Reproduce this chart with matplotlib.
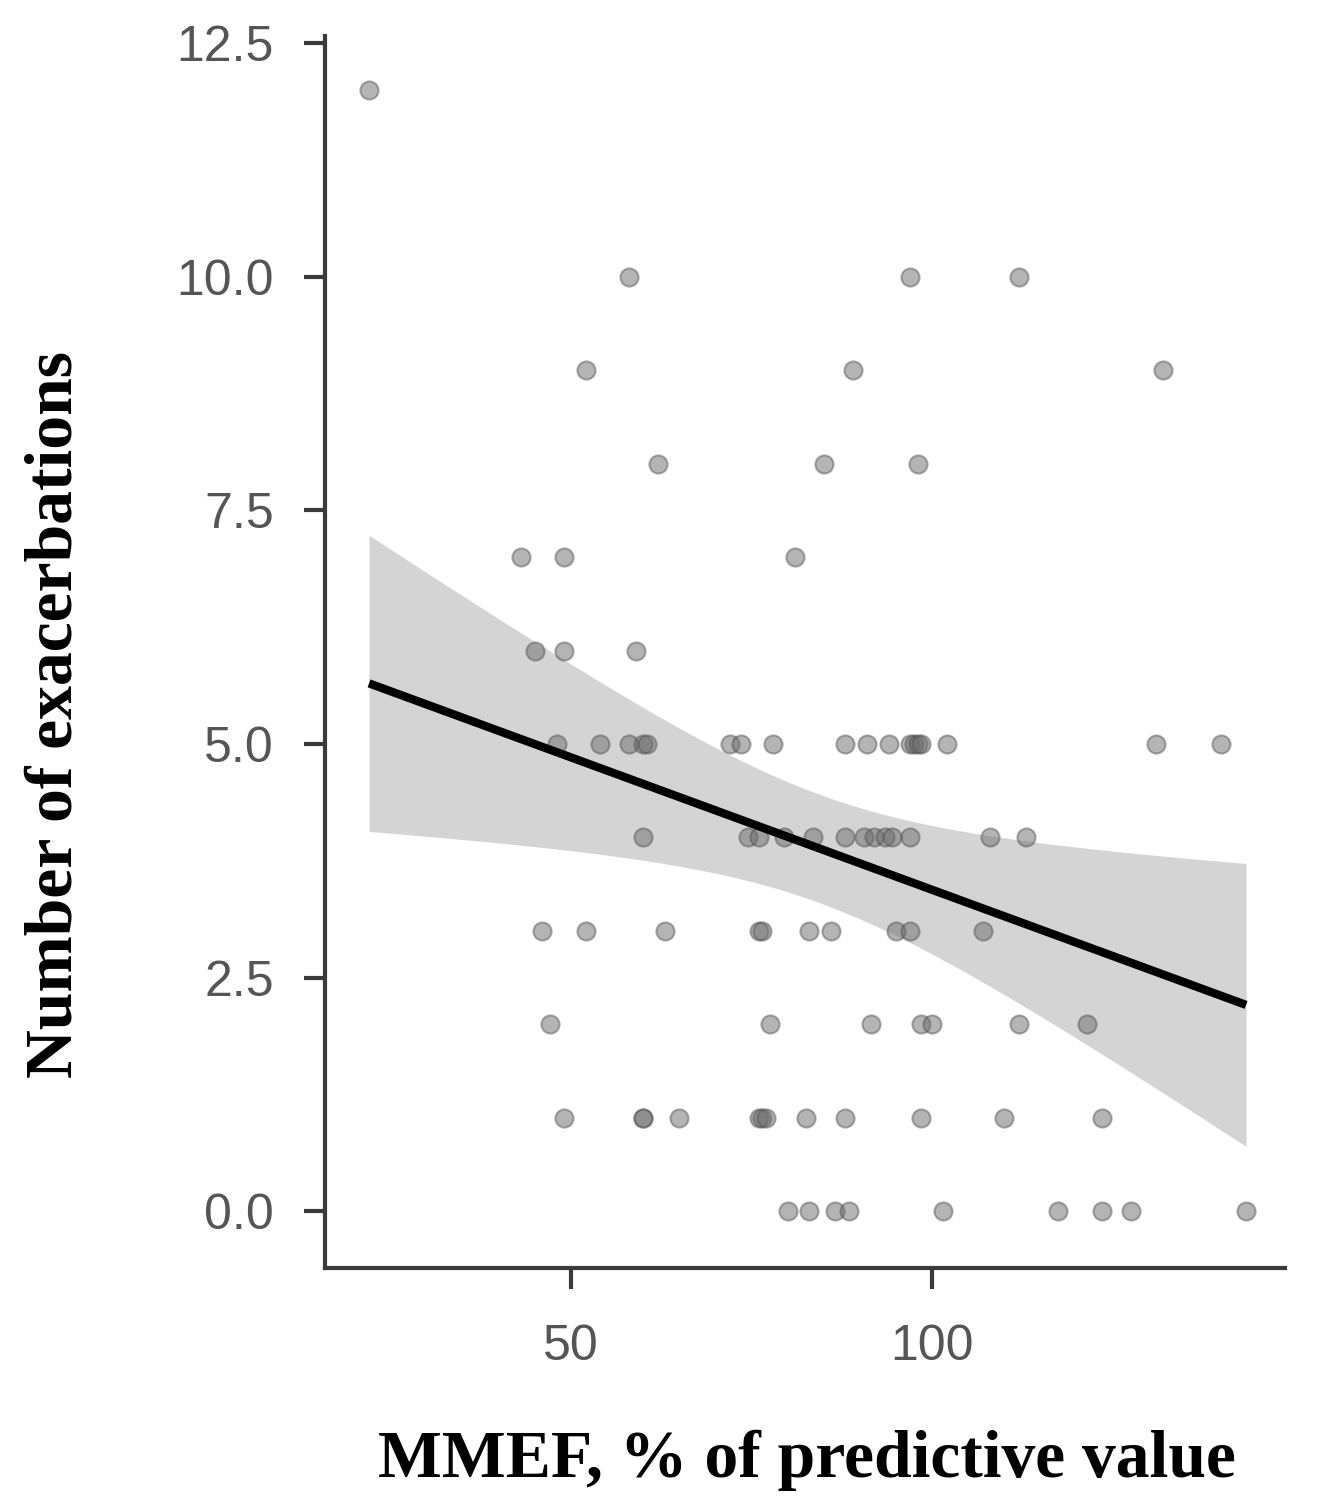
import numpy as np
import matplotlib.pyplot as plt

# MMEF (% predicted), grouped by number of exacerbations
mmef_0 = [80, 83, 86.5, 88.5, 101.5, 117.5, 123.5, 127.5, 143.5]
mmef_1 = [49, 60, 60, 65, 76, 76.5, 77, 82.5, 88, 98.5, 110, 123.5]
mmef_2 = [47, 77.5, 91.5, 98.5, 100, 112, 121.5]
mmef_3 = [46, 52, 63, 76, 76.5, 83, 86, 95, 97, 107]
mmef_4 = [60, 74.5, 76, 79.5, 83.5, 88, 90.5, 92, 93.5, 94.5, 97, 108, 113]
mmef_5 = [48, 54, 58, 60, 60.5, 72, 73.5, 78, 88, 91, 94, 97, 97.5, 98, 98.5, 102, 131, 140]
mmef_6 = [45, 49, 59]
mmef_7 = [43, 49, 81]
mmef_8 = [62, 85, 98]
mmef_9 = [52, 89, 132]
mmef_10 = [58, 97, 112]
mmef_12 = [22]

groups = {0: mmef_0, 1: mmef_1, 2: mmef_2, 3: mmef_3, 4: mmef_4, 5: mmef_5,
          6: mmef_6, 7: mmef_7, 8: mmef_8, 9: mmef_9, 10: mmef_10, 12: mmef_12}

x = []
y = []
for k in groups:
    for v in groups[k]:
        x.append(v)
        y.append(k)
x = np.array(x, dtype=float)
y = np.array(y, dtype=float)

# linear fit with 95% confidence band
n = len(x)
b1, b0 = np.polyfit(x, y, 1)
resid = y - (b0 + b1*x)
s = np.sqrt(np.sum(resid**2)/(n-2))
sxx = np.sum((x - x.mean())**2)
t_crit = 1.99
xs = np.linspace(x.min(), x.max(), 200)
ys = b0 + b1*xs
se = s*np.sqrt(1/n + (xs - x.mean())**2/sxx)

fig = plt.figure(figsize=(13.18, 15.11), dpi=100)
ax = fig.add_axes([0.2466, 0.1608, 0.7284, 0.8154])

ax.fill_between(xs, ys - t_crit*se, ys + t_crit*se, color='#d4d4d4', lw=0, zorder=1)
ax.scatter(x, y, s=170, facecolor=(0.42, 0.42, 0.42, 0.5),
           edgecolor=(0.3, 0.3, 0.3, 0.45), linewidth=1.5, zorder=2)
ax.plot(xs, ys, color='black', lw=6, solid_capstyle='butt', zorder=3)

ax.set_xlim(15.9, 148.9)
ax.set_ylim(-0.61, 12.58)
ax.set_xticks([50, 100])
ax.set_yticks([0, 2.5, 5, 7.5, 10, 12.5])
ax.set_yticklabels(['0.0', '2.5', '5.0', '7.5', '10.0', '12.5'])

for side in ['top', 'right']:
    ax.spines[side].set_visible(False)
for side in ['left', 'bottom']:
    ax.spines[side].set_linewidth(3)
    ax.spines[side].set_color('#3a3a3a')

ax.tick_params(axis='both', length=15, width=3, color='#3a3a3a',
               labelsize=36, labelcolor='#555555')
for lab in ax.get_xticklabels() + ax.get_yticklabels():
    lab.set_family('Liberation Sans')
ax.tick_params(axis='y', pad=22)
ax.tick_params(axis='x', pad=25)

ax.set_xlabel('MMEF, % of predictive value', fontsize=48.7, fontweight='bold',
              family='Liberation Serif')
ax.set_ylabel('Number of exacerbations', fontsize=48.7, fontweight='bold',
              family='Liberation Serif')
ax.xaxis.set_label_coords(0.502, -0.131)
ax.yaxis.set_label_coords(-0.249, 0.449)

fig.savefig('out.png', dpi=100)
